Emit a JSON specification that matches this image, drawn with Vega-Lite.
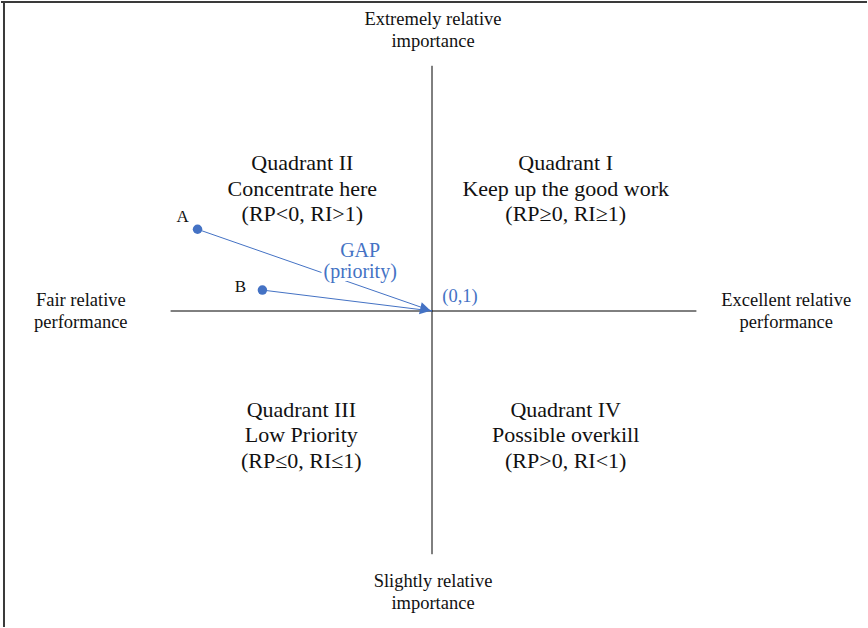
{
  "$schema": "https://vega.github.io/schema/vega-lite/v6.json",
  "width": 868,
  "height": 628,
  "padding": 0,
  "autosize": {"type": "fit", "contains": "padding"},
  "background": "white",
  "config": {"view": {"stroke": null}},
  "datasets": {
    "axes": [
      {"rp": -2.62, "ri": 1, "rp2": 2.65, "ri2": 1},
      {"rp": 0, "ri": 3.46, "rp2": 0, "ri2": -1.44}
    ],
    "border": [
      {"rp": -4.32, "ri": 4.10, "rp2": 4.36, "ri2": 4.10},
      {"rp": -4.29, "ri": 4.11, "rp2": -4.29, "ri2": -2.17}
    ],
    "gaps": [
      {"item": "A", "step": 0, "rp": -2.35, "ri": 1.82},
      {"item": "A", "step": 1, "rp": 0, "ri": 1},
      {"item": "B", "step": 0, "rp": -1.70, "ri": 1.21},
      {"item": "B", "step": 1, "rp": 0, "ri": 1}
    ],
    "points": [
      {"item": "A", "rp": -2.35, "ri": 1.82},
      {"item": "B", "rp": -1.70, "ri": 1.21}
    ],
    "head": [
      {"rp": -0.065, "ri": 1.015, "angle": 13}
    ],
    "quadrants": [
      {"label": "Quadrant II\nConcentrate here\n(RP<0, RI>1)", "rp": -1.30, "ri": 2.48},
      {"label": "Quadrant I\nKeep up the good work\n(RP≥0, RI≥1)", "rp": 1.34, "ri": 2.48},
      {"label": "Quadrant III\nLow Priority\n(RP≤0, RI≤1)", "rp": -1.31, "ri": 0.01},
      {"label": "Quadrant IV\nPossible overkill\n(RP>0, RI<1)", "rp": 1.34, "ri": 0.01}
    ],
    "ends": [
      {"label": "Extremely relative\nimportance", "rp": 0.01, "ri": 3.93},
      {"label": "Slightly relative\nimportance", "rp": 0.01, "ri": -1.71},
      {"label": "Fair relative\nperformance", "rp": -3.52, "ri": 1.11},
      {"label": "Excellent relative\nperformance", "rp": 3.55, "ri": 1.11}
    ],
    "pointLabels": [
      {"label": "A", "rp": -2.50, "ri": 1.94},
      {"label": "B", "rp": -1.92, "ri": 1.24}
    ],
    "gapLabel": [
      {"label": "GAP\n(priority)", "rp": -0.72, "ri": 1.60}
    ],
    "originLabel": [
      {"label": "(0,1)", "rp": 0.28, "ri": 1.15}
    ]
  },
  "encoding": {
    "x": {"field": "rp", "type": "quantitative", "scale": {"domain": [-4.32, 4.36], "nice": false, "zero": false}, "axis": null},
    "y": {"field": "ri", "type": "quantitative", "scale": {"domain": [-2.17, 4.11], "nice": false, "zero": false}, "axis": null}
  },
  "layer": [
    {
      "data": {"name": "border"},
      "mark": {"type": "rule", "color": "#3a3a3a", "strokeWidth": 2},
      "encoding": {"x2": {"field": "rp2"}, "y2": {"field": "ri2"}}
    },
    {
      "data": {"name": "axes"},
      "mark": {"type": "rule", "color": "#000000", "strokeWidth": 1},
      "encoding": {"x2": {"field": "rp2"}, "y2": {"field": "ri2"}}
    },
    {
      "data": {"name": "gaps"},
      "mark": {"type": "line", "color": "#4472C4", "strokeWidth": 1},
      "encoding": {"detail": {"field": "item"}, "order": {"field": "step"}}
    },
    {
      "data": {"name": "points"},
      "mark": {"type": "point", "filled": true, "opacity": 1, "color": "#4472C4", "size": 90, "shape": "circle"}
    },
    {
      "data": {"name": "head"},
      "mark": {"type": "point", "filled": true, "opacity": 1, "color": "#4472C4", "size": 150, "shape": "triangle-right"},
      "encoding": {"angle": {"field": "angle", "type": "quantitative", "scale": null}}
    },
    {
      "data": {"name": "quadrants"},
      "mark": {"type": "text", "font": "Liberation Serif, Times New Roman, serif", "fontSize": 22, "lineHeight": 25.5, "lineBreak": "\n", "align": "center", "baseline": "middle", "color": "#111"},
      "encoding": {"text": {"field": "label"}}
    },
    {
      "data": {"name": "ends"},
      "mark": {"type": "text", "font": "Liberation Serif, Times New Roman, serif", "fontSize": 18.5, "lineHeight": 22, "lineBreak": "\n", "align": "center", "baseline": "middle", "color": "#111"},
      "encoding": {"text": {"field": "label"}}
    },
    {
      "data": {"name": "pointLabels"},
      "mark": {"type": "text", "font": "Liberation Serif, Times New Roman, serif", "fontSize": 17, "align": "center", "baseline": "middle", "color": "#111"},
      "encoding": {"text": {"field": "label"}}
    },
    {
      "data": {"name": "gapLabel"},
      "mark": {"type": "text", "font": "Liberation Serif, Times New Roman, serif", "fontSize": 20, "lineHeight": 21, "lineBreak": "\n", "align": "center", "baseline": "middle", "color": "white", "stroke": "white", "strokeWidth": 6, "strokeJoin": "round"},
      "encoding": {"text": {"field": "label"}}
    },
    {
      "data": {"name": "gapLabel"},
      "mark": {"type": "text", "font": "Liberation Serif, Times New Roman, serif", "fontSize": 20, "lineHeight": 21, "lineBreak": "\n", "align": "center", "baseline": "middle", "color": "#4472C4"},
      "encoding": {"text": {"field": "label"}}
    },
    {
      "data": {"name": "originLabel"},
      "mark": {"type": "text", "font": "Liberation Serif, Times New Roman, serif", "fontSize": 18.5, "align": "center", "baseline": "middle", "color": "#4472C4"},
      "encoding": {"text": {"field": "label"}}
    }
  ]
}
